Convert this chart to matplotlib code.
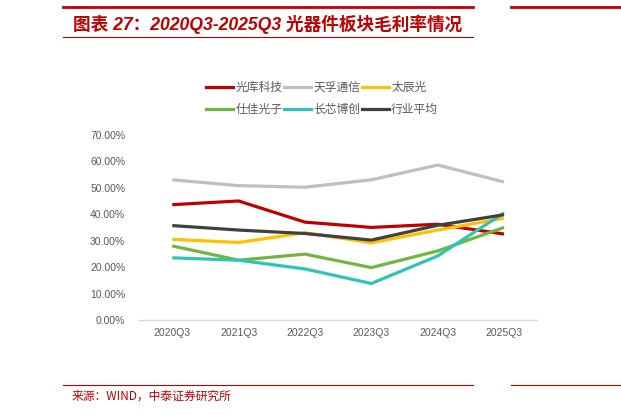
import matplotlib.pyplot as plt
from matplotlib.lines import Line2D

plt.rcParams['font.family'] = ['Liberation Sans', 'Noto Sans CJK SC', 'DejaVu Sans']

quarters = ['2020Q3', '2021Q3', '2022Q3', '2023Q3', '2024Q3', '2025Q3']
guangku = [43.6, 45.0, 37.0, 35.0, 36.2, 32.5]      # 光库科技
tianfu = [53.0, 50.8, 50.2, 53.0, 58.6, 52.2]       # 天孚通信
taichen = [30.5, 29.3, 33.0, 29.2, 34.0, 38.5]      # 太辰光
shijia = [28.0, 22.6, 24.9, 19.8, 26.1, 35.0]       # 仕佳光子
changxin = [23.5, 22.6, 19.3, 13.8, 24.2, 40.5]     # 长芯博创
average = [35.7, 34.0, 32.7, 30.2, 35.8, 39.8]      # 行业平均

names = ['光库科技', '天孚通信', '太辰光', '仕佳光子', '长芯博创', '行业平均']
colors = ['#C00000', '#BFBFBF', '#FFC000', '#70B63F', '#2EC4B6', '#404040']
series = [guangku, tianfu, taichen, shijia, changxin, average]

fig = plt.figure(figsize=(6.21, 4.15), dpi=100)
ax = fig.add_axes([0.224, 0.229, 0.641, 0.446])

x = range(len(quarters))
for vals, c, n in zip(series, colors, names):
    ax.plot(x, [v / 100 for v in vals], color=c, lw=2.3, label=n, solid_capstyle='butt')

ax.set_xlim(-0.5, len(quarters) - 0.5)
ax.set_ylim(0, 0.7)
ax.set_yticks([i / 10 for i in range(8)])
ax.set_yticklabels(['%.2f%%' % (i * 10) for i in range(8)])
ax.set_xticks(list(x))
ax.set_xticklabels(quarters)
for s in ['top', 'right', 'left']:
    ax.spines[s].set_visible(False)
ax.spines['bottom'].set_color('#D9D9D9')
ax.spines['bottom'].set_linewidth(1)
ax.tick_params(length=0, labelsize=7.5, colors='#595959', pad=6)
ax.tick_params(axis='y', pad=10)

# legend filled row-wise (matplotlib fills columns first, so reorder)
order = [0, 3, 1, 4, 2, 5]
handles = [Line2D([], [], color=colors[i], lw=2.3) for i in order]
labels = [names[i] for i in order]
ax.legend(handles, labels, ncol=3, loc='center', bbox_to_anchor=(0.46, 1.195),
          frameon=False, handlelength=2.3, handletextpad=0.2,
          columnspacing=0.1, labelspacing=0.75, labelcolor='#595959',
          prop={'family': ['Noto Sans CJK SC'], 'size': 8.5})

# header / footer decoration
red = '#C00000'
fig.add_artist(Line2D([63 / 621, 473 / 621], [1 - 7.5 / 415] * 2, color=red, lw=2))
fig.add_artist(Line2D([63 / 621, 473 / 621], [1 - 37.5 / 415] * 2, color=red, lw=0.8))
fig.add_artist(Line2D([511 / 621, 1], [1 - 7.5 / 415] * 2, color=red, lw=2))
fig.add_artist(Line2D([63 / 621, 473 / 621], [1 - 384.5 / 415] * 2, color=red, lw=0.8))
fig.add_artist(Line2D([511 / 621, 1], [1 - 384.5 / 415] * 2, color=red, lw=0.8))

fig.text(73 / 621, 1 - 24 / 415, '图表 27：2020Q3-2025Q3 光器件板块毛利率情况',
         color=red, fontsize=12.7, fontweight='bold', style='italic', va='center')
fig.text(72 / 621, 1 - 396 / 415, '来源：WIND，中泰证券研究所',
         color=red, fontsize=8.5, va='center',
         family=['Noto Sans CJK SC', 'DejaVu Sans'])

fig.savefig('out.png', dpi=100)
